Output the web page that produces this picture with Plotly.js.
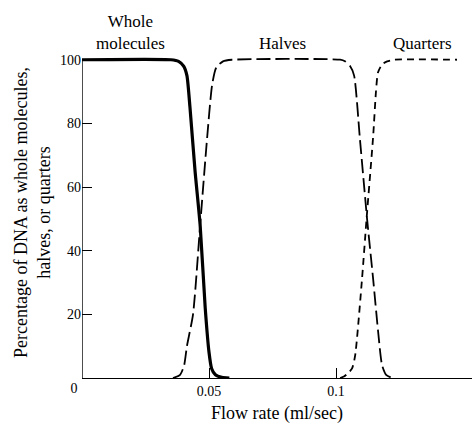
<!DOCTYPE html>
<html>
<head>
<meta charset="utf-8">
<script src="https://cdn.plot.ly/plotly-3.0.1.min.js"></script>
<style>html,body{margin:0;padding:0;background:#fff;}#chart{width:472px;height:424px;}</style>
</head>
<body>
<div id="chart"></div>
<script>
// Series names
const seriesNames = ["Whole<br>molecules", "Halves", "Quarters"];

// Whole molecules (solid)
const wholeX = [0, 0.035, 0.038, 0.0400, 0.0413, 0.0425, 0.0445, 0.0465, 0.0485, 0.0500, 0.0510, 0.0525, 0.0550, 0.0580];
const wholeY = [100, 100, 99.5, 98, 95, 85, 65, 48, 22, 8, 3, 1, 0.2, 0];

// Halves (long dashes)
const halvesX = [0.0358, 0.0386, 0.0402, 0.0413, 0.0437, 0.0465, 0.0492, 0.0512, 0.0528, 0.0555, 0.0590,
                 0.1016, 0.1035, 0.1055, 0.1071, 0.1094, 0.1122, 0.1146, 0.1165, 0.1181, 0.1197, 0.1220];
const halvesY = [0, 1, 4, 10, 20, 48, 75, 92, 97.5, 99.5, 100,
                 100, 99.5, 98, 95, 75, 50, 31, 15, 4, 1, 0];

// Quarters (short dashes)
const quartersX = [0.1016, 0.1031, 0.1047, 0.1063, 0.1075, 0.1102, 0.1120, 0.1146, 0.1157, 0.1165, 0.1181, 0.1201, 0.1230, 0.1476];
const quartersY = [0, 0.5, 1.5, 3, 7, 31, 50, 76, 90, 96, 98.5, 99.5, 100, 100];

// Axis ticks
const xTickVals = [0.05, 0.1];
const xTickText = ["0.05", "0.1"];
const xZeroVal = [0];
const xZeroText = ["0"];
const yTickVals = [20, 40, 60, 80, 100];
const yTickText = ["20", "40", "60", "80", "100"];
const yAxisSpan = [0, 100];

// Label anchor positions (x in data, y in paper fraction above the plot)
const labelX = [0.0189, 0.0791, 0.1339];
const labelY = [1.045, 1.012, 1.012];

const serif = "Liberation Serif, Times New Roman, serif";

const traces = [
  {x: wholeX, y: wholeY, mode: "lines", line: {color: "#000", width: 3.2, shape: "spline", smoothing: 0.6}, hoverinfo: "none"},
  {x: halvesX, y: halvesY, mode: "lines", line: {color: "#000", width: 1.8, dash: "14px,5px", shape: "spline", smoothing: 0.6}, hoverinfo: "none"},
  {x: quartersX, y: quartersY, mode: "lines", line: {color: "#000", width: 1.8, dash: "7px,5px", shape: "spline", smoothing: 0.6}, hoverinfo: "none"},
  // invisible trace on the overlay axis so the "0" label axis is drawn
  {x: xZeroVal, y: [0], xaxis: "x2", yaxis: "y", mode: "markers", marker: {opacity: 0}, hoverinfo: "none"}
];

const annotations = seriesNames.map((t, i) => ({
  x: labelX[i], y: labelY[i], xref: "x", yref: "paper", text: t, showarrow: false,
  xanchor: "center", yanchor: "middle", font: {family: serif, size: 17, color: "#000"}
}));

const layout = {
  width: 472, height: 424,
  margin: {l: 82, r: 0, t: 47, b: 46},
  paper_bgcolor: "#fff", plot_bgcolor: "#fff",
  showlegend: false,
  font: {family: serif, color: "#000"},
  xaxis: {
    range: [0, 0.1535], showgrid: false, zeroline: false,
    showline: true, linecolor: "#000", linewidth: 1.4,
    ticks: "inside", ticklen: 10, tickwidth: 1, tickcolor: "#000",
    tickvals: xTickVals, ticktext: xTickText,
    tickfont: {family: serif, size: 14, color: "#000"},
    title: {text: "Flow rate (ml/sec)", font: {family: serif, size: 18, color: "#000"}, standoff: 10}
  },
  xaxis2: {
    overlaying: "x", anchor: "y", side: "bottom", matches: "x",
    range: [0, 0.1535], showgrid: false, zeroline: false, showline: false,
    ticks: "", tickvals: xZeroVal, ticktext: xZeroText, ticklabelshift: -8,
    tickfont: {family: serif, size: 14, color: "#000"}
  },
  yaxis: {
    range: [0, 104], showgrid: false, zeroline: false,
    showline: false,
    ticks: "inside", ticklen: 10, tickwidth: 1, tickcolor: "#000",
    tickvals: yTickVals, ticktext: yTickText,
    tickfont: {family: serif, size: 14, color: "#000"},
    title: {text: "Percentage of DNA as whole molecules,<br>halves, or quarters", font: {family: serif, size: 18, color: "#000"}, standoff: 4}
  },
  shapes: [
    {type: "line", xref: "x", yref: "y", x0: 0, x1: 0, y0: yAxisSpan[0], y1: yAxisSpan[1], line: {color: "#000", width: 1.4}, layer: "below"}
  ],
  annotations: annotations
};

Plotly.newPlot("chart", traces, layout, {displayModeBar: false, staticPlot: true});
</script>
</body>
</html>
